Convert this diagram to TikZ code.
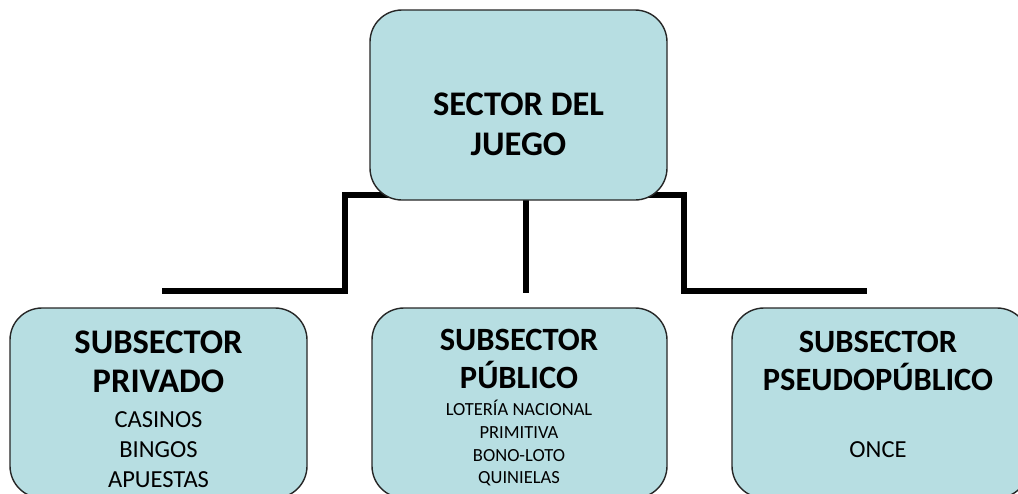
\documentclass[tikz,border=0pt]{standalone}
\usepackage{fontspec}
\setmainfont{Carlito}
\usetikzlibrary{backgrounds}

\definecolor{boxblue}{RGB}{183,222,226}

\tikzset{
  box/.style={draw=black!85, line width=1.4pt, fill=boxblue, rounded corners=32pt,
    minimum width=297pt, minimum height=190pt, inner sep=0pt},
  link/.style={line width=6pt},
  head/.style={font=\fontsize{34.5}{40}\selectfont\bfseries, anchor=base, inner sep=0pt},
  midhead/.style={font=\fontsize{32.5}{38}\selectfont\bfseries, anchor=base, inner sep=0pt},
  item/.style={font=\fontsize{24.5}{29}\selectfont, anchor=base, inner sep=0pt},
  smallitem/.style={font=\fontsize{18.5}{22}\selectfont, anchor=base, inner sep=0pt}
}

\begin{document}
\begin{tikzpicture}[x=1pt, y=-1pt]
\useasboundingbox (0,0) rectangle (1018,493);
\clip (0,0) rectangle (1018,493);

% boxes
\node[box] (juego) at (518.5,105) {};
\node[box] (privado) at (158.5,403) {};
\node[box, minimum width=295pt] (publico) at (519.5,403) {};
\node[box] (pseudo) at (880.5,403) {};

% connectors, behind the top box
\coordinate (ltip) at (162,291);
\coordinate (rtip) at (867,291);
\coordinate (mtip) at (526,293);
\begin{scope}[on background layer]
\draw[link] (ltip) -- (345,291) -- (345,195) -- (684,195) -- (684,291) -- (rtip);
\draw[link] (juego.center -| mtip) -- (mtip);
\end{scope}

% top
\node[head] (t1) at (518.5,115) {SECTOR DEL};
\node[head] (t2) at (518.5,155) {JUEGO};

% privado
\node[head] (p1) at (158.5,353) {SUBSECTOR};
\node[head] (p2) at (158.5,392) {PRIVADO};
\foreach \txt/\y [count=\i] in {CASINOS/427, BINGOS/457, APUESTAS/487}
  \node[item] (pi\i) at (158.5,\y) {\txt};

% publico
\node[midhead] (u1) at (519,350) {SUBSECTOR};
\node[midhead] (u2) at (519,388) {PÚBLICO};
\foreach \txt/\y [count=\i] in {LOTERÍA NACIONAL/415, PRIMITIVA/438, BONO-LOTO/461, QUINIELAS/483}
  \node[smallitem] (ui\i) at (519,\y) {\txt};

% pseudopublico
\node[midhead] (s1) at (878,352) {SUBSECTOR};
\node[midhead] (s2) at (878,390) {PSEUDOPÚBLICO};
\node[item] (si1) at (878,457) {ONCE};

\end{tikzpicture}
\end{document}
